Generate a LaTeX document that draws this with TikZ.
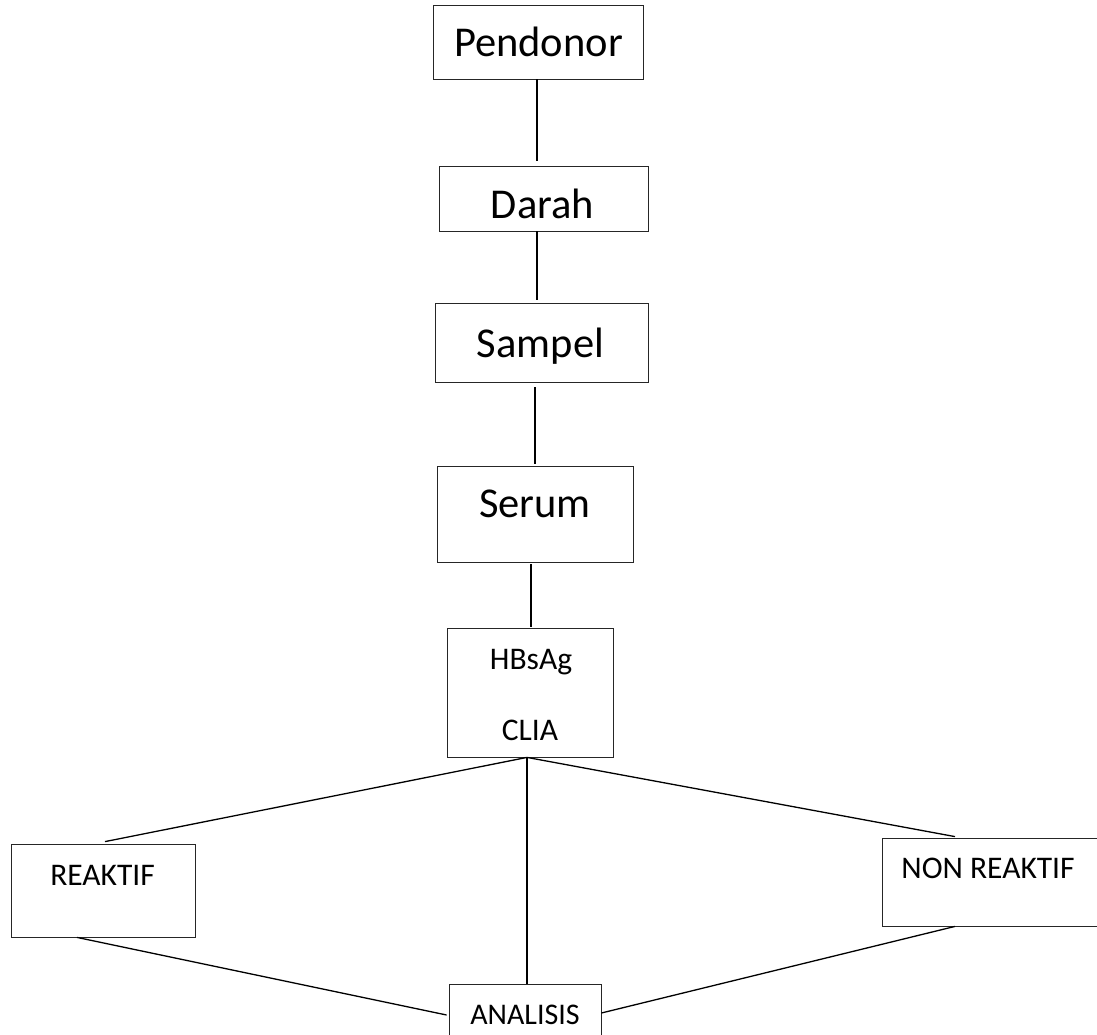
\documentclass[tikz,border=0pt]{standalone}
\usepackage{fontspec}
\setmainfont{Carlito}
\usetikzlibrary{calc}
\begin{document}
\begin{tikzpicture}[x=1pt,y=-1pt,
  box/.style={draw=black!85, line width=0.8pt, inner sep=0pt, anchor=center},
  big/.style={font=\fontsize{42.5}{42.5}\selectfont, text height=27.4pt, text depth=0pt, inner sep=0pt},
  small/.style={font=\fontsize{31.5}{31.5}\selectfont, text height=20.3pt, text depth=0pt, inner sep=0pt},
  link/.style={line width=1.3pt}]
\useasboundingbox (0,0) rectangle (1097,1035);
\clip (0,0) rectangle (1097,1035);
% boxes
\node[box, minimum width=210pt, minimum height=74pt] (pend) at (538,42) {};
\node[box, minimum width=209pt, minimum height=65pt] (darah) at (543.5,198.5) {};
\node[box, minimum width=213pt, minimum height=79pt] (sampel) at (541.5,342.5) {};
\node[box, minimum width=196pt, minimum height=96pt] (serum) at (535,514) {};
\node[box, minimum width=166pt, minimum height=129pt] (hbs) at (530,692.5) {};
\node[box, minimum width=184pt, minimum height=93pt] (reak) at (103,890.5) {};
\node[box, minimum width=218pt, minimum height=88pt] (nonr) at (991,882) {};
\node[box, minimum width=152pt, minimum height=61pt] (anal) at (525,1014.5) {};
% texts
\node[big] (tpend) at (538.5,42.5) {Pendonor};
\node[big] (tdarah) at (542.5,205) {Darah};
\node[big] (tsampel) at (540.5,343.5) {Sampel};
\node[big] (tserum) at (535,503.5) {Serum};
\node[small] (thbs) at (531,659) {HBsAg};
\node[small] (tclia) at (530,730.5) {CLIA};
\node[small] (treak) at (102.5,875) {REAKTIF};
\node[small] (tnonr) at (988,868) {NON REAKTIF};
\node[small, font=\fontsize{30}{30}\selectfont] (tanal) at (525,1014) {ANALISIS};
% connectors
\coordinate (apex) at ($(hbs.south)+(-3,0)$);
\draw[link] ($(pend.south)+(-1,0)$) -- ($(darah.north)+(-6.5,-5)$);
\draw[link] ($(darah.south)+(-6.5,0)$) -- ($(sampel.north)+(-4.5,-3)$);
\draw[link] ($(sampel.south)+(-6.5,5)$) -- ($(serum.north)+(0,-2)$);
\draw[link] ($(serum.south)+(-4,2)$) -- ($(hbs.north)+(1,-1)$);
\draw[link] (apex) -- ($(reak.north)+(2,-2)$);
\draw[link] (apex) -- ($(nonr.north)+(-36,-1)$);
\draw[link] (apex) -- ($(anal.north)+(2,0)$);
\draw[link] ($(reak.south)+(-26,0)$) -- ($(anal.west)+(-2,0.5)$);
\draw[link] ($(nonr.south)+(-36,0)$) -- ($(anal.east)+(0,-1.5)$);
\end{tikzpicture}
\end{document}
